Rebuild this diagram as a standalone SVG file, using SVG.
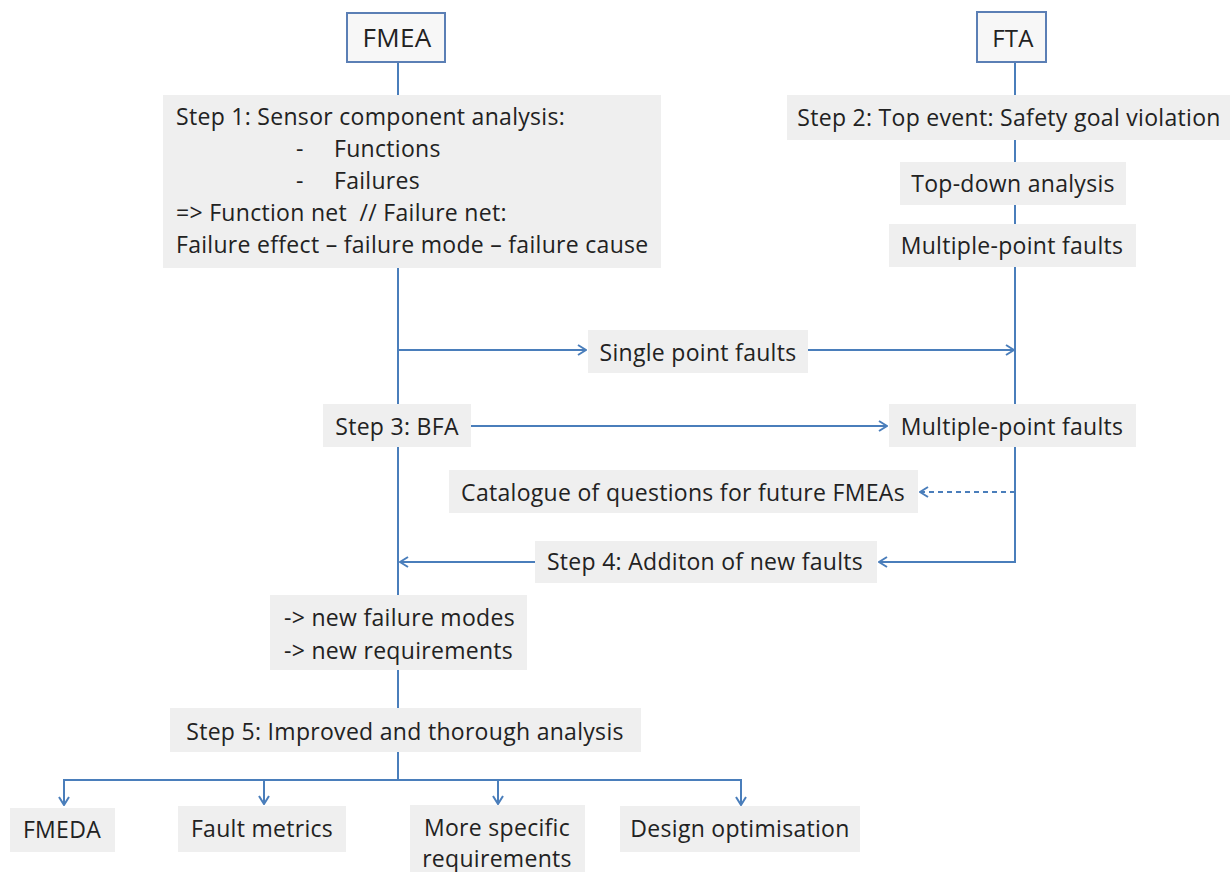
<svg xmlns="http://www.w3.org/2000/svg" width="1232" height="872" viewBox="0 0 1232 872">
  <style>
    .box { fill: #efefef; }
    .head { fill: #f7f7f7; stroke: #5b7fb5; stroke-width: 2; }
    .t { font-family: "Open Sans", Lato, "Liberation Sans", sans-serif; font-size: 23px; letter-spacing: 0.3px; fill: #222222; }
    .c { text-anchor: middle; }
    .ln { fill: none; stroke: #4a7ebb; stroke-width: 2; }
    .dash { stroke-dasharray: 5 4; }
  </style>
  <defs>
    <marker id="arr" viewBox="0 0 10 12" refX="9" refY="6" markerWidth="10" markerHeight="12" markerUnits="userSpaceOnUse" orient="auto">
      <path d="M1,1 L9,6 L1,11" fill="none" stroke="#4a7ebb" stroke-width="2"/>
    </marker>
  </defs>

  <!-- connectors -->
  <g id="connectors">
    <line class="ln" x1="398" y1="62" x2="398" y2="780"/>
    <polyline class="ln" points="1015,62 1015,562 879,562" marker-end="url(#arr)"/>
    <line class="ln" x1="398" y1="350" x2="586" y2="350" marker-end="url(#arr)"/>
    <line class="ln" x1="808" y1="350" x2="1014" y2="350" marker-end="url(#arr)"/>
    <line class="ln" x1="471" y1="426" x2="887" y2="426" marker-end="url(#arr)"/>
    <line class="ln dash" x1="1015" y1="492" x2="920" y2="492" marker-end="url(#arr)"/>
    <line class="ln" x1="535" y1="562" x2="400" y2="562" marker-end="url(#arr)"/>
    <polyline class="ln" points="64,805 64,780 741,780 741,805" marker-end="url(#arr)"/>
    <line class="ln" x1="64" y1="780" x2="64" y2="805" marker-end="url(#arr)"/>
    <line class="ln" x1="264" y1="780" x2="264" y2="804" marker-end="url(#arr)"/>
    <line class="ln" x1="498" y1="780" x2="498" y2="804" marker-end="url(#arr)"/>
  </g>

  <g id="fmea">
    <rect class="head" x="347" y="13" width="98" height="49"/>
    <text class="t c" x="397" y="47" style="font-size:26px">FMEA</text>
  </g>
  <g id="fta">
    <rect class="head" x="977" y="12" width="69" height="50"/>
    <text class="t c" x="1013" y="47" style="font-size:24px">FTA</text>
  </g>

  <g id="step1">
    <rect class="box" x="163" y="95" width="498" height="173"/>
    <text class="t" x="176" y="125">Step 1: Sensor component analysis:</text>
    <text class="t" x="296" y="157">-</text>
    <text class="t" x="334" y="157">Functions</text>
    <text class="t" x="296" y="189">-</text>
    <text class="t" x="334" y="189">Failures</text>
    <text class="t" x="176" y="221">=&gt; Function net &#160;// Failure net:</text>
    <text class="t" x="176" y="253">Failure effect – failure mode – failure cause</text>
  </g>

  <g id="step2">
    <rect class="box" x="787" y="95" width="443" height="45"/>
    <text class="t c" x="1009" y="126">Step 2: Top event: Safety goal violation</text>
  </g>
  <g id="topdown">
    <rect class="box" x="900" y="162" width="226" height="43"/>
    <text class="t c" x="1013" y="192">Top-down analysis</text>
  </g>
  <g id="mpf1">
    <rect class="box" x="889" y="224" width="247" height="43"/>
    <text class="t c" x="1012" y="254">Multiple-point faults</text>
  </g>
  <g id="spf">
    <rect class="box" x="588" y="330" width="220" height="43"/>
    <text class="t c" x="698" y="361">Single point faults</text>
  </g>
  <g id="step3">
    <rect class="box" x="323" y="404" width="148" height="43"/>
    <text class="t c" x="397" y="435">Step 3: BFA</text>
  </g>
  <g id="mpf2">
    <rect class="box" x="889" y="404" width="247" height="43"/>
    <text class="t c" x="1012" y="435">Multiple-point faults</text>
  </g>
  <g id="catalogue">
    <rect class="box" x="449" y="470" width="469" height="43"/>
    <text class="t c" x="683" y="501">Catalogue of questions for future FMEAs</text>
  </g>
  <g id="step4">
    <rect class="box" x="535" y="541" width="342" height="42"/>
    <text class="t c" x="705" y="570">Step 4: Additon of new faults</text>
  </g>
  <g id="newmodes">
    <rect class="box" x="270" y="595" width="257" height="75"/>
    <text class="t" x="284" y="626">-&gt; new failure modes</text>
    <text class="t" x="284" y="659">-&gt; new requirements</text>
  </g>
  <g id="step5">
    <rect class="box" x="170" y="708" width="471" height="44"/>
    <text class="t c" x="405" y="740">Step 5: Improved and thorough analysis</text>
  </g>
  <g id="fmeda">
    <rect class="box" x="10" y="808" width="105" height="44"/>
    <text class="t c" x="62" y="838">FMEDA</text>
  </g>
  <g id="metrics">
    <rect class="box" x="178" y="806" width="168" height="46"/>
    <text class="t c" x="262" y="837">Fault metrics</text>
  </g>
  <g id="specific">
    <rect class="box" x="410" y="805" width="175" height="67"/>
    <text class="t c" x="497" y="836">More specific</text>
    <text class="t c" x="497" y="867">requirements</text>
  </g>
  <g id="design">
    <rect class="box" x="620" y="806" width="240" height="46"/>
    <text class="t c" x="740" y="837">Design optimisation</text>
  </g>
</svg>
